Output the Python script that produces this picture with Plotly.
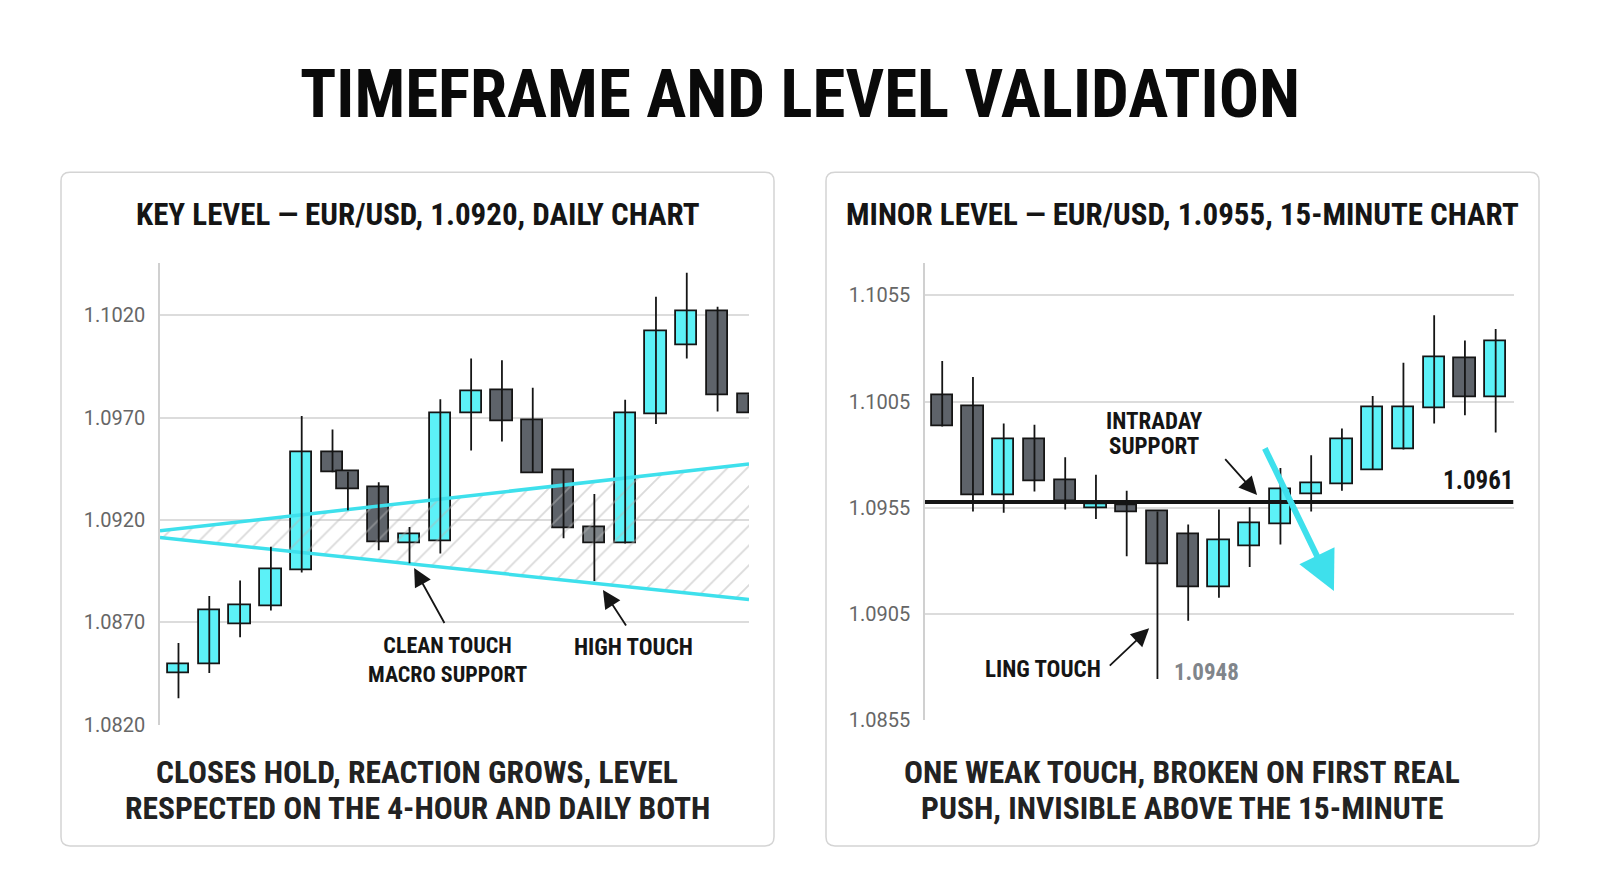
import plotly.graph_objects as go

# ---------------- data ----------------
# Left panel: daily EUR/USD candles
left_x = [0, 1, 2, 3, 4, 5, 5.5, 6.5, 7.5, 8.5, 9.5, 10.5, 11.5, 12.5, 13.5, 14.5, 15.5, 16.5, 17.5, 18.5]
left_open = [1.08453, 1.08497, 1.08693, 1.08780, 1.08956, 1.09531, 1.09436, 1.09359, 1.09085, 1.09096,
             1.09720, 1.09831, 1.09686, 1.09444, 1.09163, 1.09085, 1.09717, 1.10053, 1.10221, 1.09813]
left_close = [1.08497, 1.08760, 1.08783, 1.08958, 1.09531, 1.09433, 1.09351, 1.09090, 1.09129, 1.09723,
              1.09829, 1.09681, 1.09429, 1.09160, 1.09085, 1.09723, 1.10122, 1.10218, 1.09807, 1.09722]
left_high = [1.08600, 1.08829, 1.08905, 1.09069, 1.09707, 1.09642, 1.09436, 1.09384, 1.09166, 1.09789,
             1.09988, 1.09980, 1.09846, 1.09444, 1.09327, 1.09787, 1.10290, 1.10407, 1.10241, 1.09813]
left_low = [1.08330, 1.08453, 1.08628, 1.08758, 1.08943, 1.09433, 1.09248, 1.09052, 1.08989, 1.09036,
            1.09539, 1.09583, 1.09429, 1.09111, 1.08902, 1.09085, 1.09668, 1.09988, 1.09730, 1.09722]
left_touch_index = 14  # the "high touch" candle drawn in neutral gray

# macro support band (upper / lower edge at start and end)
band_x = [-0.6, 18.52]
band_upper = [1.09147, 1.09473]
band_lower = [1.09114, 1.08812]

left_ticks = [1.0820, 1.0870, 1.0920, 1.0970, 1.1020]
left_tick_text = ["1.0820", "1.0870", "1.0920", "1.0970", "1.1020"]

# Right panel: 15-minute candles
right_x = list(range(19))
right_open = [1.10081, 1.10030, 1.09611, 1.09873, 1.09678, 1.09550, 1.09564, 1.09533, 1.09425, 1.09178,
              1.09369, 1.09472, 1.09613, 1.09663, 1.09728, 1.09825, 1.10019, 1.10253, 1.10072]
right_close = [1.09933, 1.09611, 1.09873, 1.09673, 1.09581, 1.09566, 1.09527, 1.09284, 1.09175, 1.09397,
               1.09475, 1.09636, 1.09664, 1.09873, 1.10022, 1.10025, 1.10259, 1.10069, 1.10334]
right_high = [1.10241, 1.10166, 1.09947, 1.09941, 1.09788, 1.09706, 1.09631, 1.09533, 1.09472, 1.09542,
              1.09553, 1.09738, 1.09798, 1.09923, 1.10077, 1.10233, 1.10456, 1.10338, 1.10392]
right_low = [1.09933, 1.09533, 1.09527, 1.09627, 1.09542, 1.09498, 1.09322, 1.08745, 1.09019, 1.09127,
             1.09272, 1.09377, 1.09533, 1.09631, 1.09728, 1.09825, 1.09947, 1.09986, 1.09905]

support_x = [-0.56, 18.58]
support_level = [1.09577, 1.09577]

right_ticks = [1.0855, 1.0905, 1.0955, 1.1005, 1.1055]
right_tick_text = ["1.0855", "1.0905", "1.0955", "1.1005", "1.1055"]

# ---------------- style ----------------
W, H = 1600, 893
YK = 880 / 893  # vertical layout factor
CYAN = "#5cf1f7"
CYAN_LINE = "#3ee0ec"
DARK = "#5e636a"
TOUCH_GRAY = "#7c8286"
INK = "#151515"
COND = "Roboto Condensed, Liberation Sans Narrow, Arial Narrow, DejaVu Sans Condensed, sans-serif"
TICKFONT = dict(family="Roboto, sans-serif", size=20, color="#666666")


def px(x):
    return x / W


def py(y):
    return 1 - (y / YK) / H


fig = go.Figure()


def add_candles(xs, o, c, h, l, xa, ya, special=None):
    wx, wy = [], []
    for xi, hi, lo in zip(xs, h, l):
        wx += [xi, xi, None]
        wy += [lo, hi, None]
    fig.add_trace(go.Scatter(x=wx, y=wy, mode="lines", line=dict(color=INK, width=1.8),
                             xaxis=xa, yaxis=ya, hoverinfo="skip", showlegend=False))
    colors = []
    for i, (oo, cc) in enumerate(zip(o, c)):
        if special is not None and i == special:
            colors.append(TOUCH_GRAY)
        elif cc >= oo:
            colors.append(CYAN)
        else:
            colors.append(DARK)
    fig.add_trace(go.Bar(x=xs, y=[abs(cc - oo) for oo, cc in zip(o, c)],
                         base=[min(oo, cc) for oo, cc in zip(o, c)], width=0.69,
                         marker=dict(color=colors, line=dict(color=INK, width=1.8)),
                         xaxis=xa, yaxis=ya, hoverinfo="skip", showlegend=False))


# left band (hatched)
fig.add_trace(go.Scatter(x=band_x, y=band_lower, mode="lines", line=dict(color=CYAN_LINE, width=3.5),
                         xaxis="x", yaxis="y", hoverinfo="skip", showlegend=False))
fig.add_trace(go.Scatter(x=band_x, y=band_upper, mode="lines", line=dict(color=CYAN_LINE, width=3.5),
                         fill="tonexty", fillcolor="rgba(0,0,0,0)",
                         fillpattern=dict(shape="/", fgcolor="#b5b5b5", bgcolor="rgba(255,255,255,0)",
                                          size=14, solidity=0.13),
                         xaxis="x", yaxis="y", hoverinfo="skip", showlegend=False))
add_candles(left_x, left_open, left_close, left_high, left_low, "x", "y", special=left_touch_index)

# right support line + candles
fig.add_trace(go.Scatter(x=support_x, y=support_level, mode="lines", line=dict(color=INK, width=4),
                         xaxis="x2", yaxis="y2", hoverinfo="skip", showlegend=False))
add_candles(right_x, right_open, right_close, right_high, right_low, "x2", "y2")

# ---------------- layout ----------------
axis_common = dict(showgrid=False, zeroline=False, showticklabels=False, fixedrange=True)
yaxis_common = dict(showgrid=True, gridcolor="#dcdcdc", gridwidth=1.5, zeroline=False,
                    showline=True, linecolor="#d0d0d0", linewidth=1.5,
                    tickfont=TICKFONT, ticks="", ticklabelstandoff=9, fixedrange=True)

fig.update_layout(
    width=W, height=H, autosize=False,
    margin=dict(l=0, r=0, t=0, b=0),
    paper_bgcolor="#ffffff", plot_bgcolor="rgba(0,0,0,0)",
    barmode="overlay", bargap=0,
    showlegend=False,
    xaxis=dict(domain=[px(160), px(749)], range=[-0.6, 18.52], anchor="y", **axis_common),
    yaxis=dict(domain=[py(724), py(263)], range=[1.0820, 1.10453], anchor="x",
               tickvals=left_ticks, ticktext=left_tick_text, **yaxis_common),
    xaxis2=dict(domain=[px(925), px(1513.5)], range=[-0.56, 18.58], anchor="y2", **axis_common),
    yaxis2=dict(domain=[py(719.5), py(263)], range=[1.0855, 1.10701], anchor="x2",
                tickvals=right_ticks, ticktext=right_tick_text, **yaxis_common),
)


def card(x0, y0, x1, y1, r=9):
    X0, X1 = px(x0), px(x1)
    Y0, Y1 = py(y0), py(y1)
    rx, ry = r / W, r / H
    path = (f"M {X0 + rx},{Y0} L {X1 - rx},{Y0} Q {X1},{Y0} {X1},{Y0 - ry} "
            f"L {X1},{Y1 + ry} Q {X1},{Y1} {X1 - rx},{Y1} L {X0 + rx},{Y1} Q {X0},{Y1} {X0},{Y1 + ry} "
            f"L {X0},{Y0 - ry} Q {X0},{Y0} {X0 + rx},{Y0} Z")
    return dict(type="path", xref="paper", yref="paper", path=path, fillcolor="#ffffff",
                line=dict(color="#d4d4d4", width=1.5), layer="below")


fig.update_layout(shapes=[card(61, 172, 774, 845), card(826, 172, 1539, 845)])

ann = []


def ptext(text, x, y, size, color=INK, **kw):
    ann.append(dict(text=text, x=px(x), y=py(y), xref="paper", yref="paper", showarrow=False,
                    font=dict(family=COND, size=size, color=color, weight="bold"),
                    xanchor="center", yanchor="middle", **kw))


ptext("TIMEFRAME AND LEVEL VALIDATION", 800, 94, 67, color="#0a0a0a")
ptext("KEY LEVEL — EUR/USD, 1.0920, DAILY CHART", 418, 214, 31)
ptext("MINOR LEVEL — EUR/USD, 1.0955, 15-MINUTE CHART", 1182, 214, 31)
ptext("CLOSES HOLD, REACTION GROWS, LEVEL", 417, 772, 31.5, color="#222222")
ptext("RESPECTED ON THE 4-HOUR AND DAILY BOTH", 417, 808, 31.5, color="#222222")
ptext("ONE WEAK TOUCH, BROKEN ON FIRST REAL", 1182, 772, 31.5, color="#222222")
ptext("PUSH, INVISIBLE ABOVE THE 15-MINUTE", 1182, 808, 31.5, color="#222222")


def dtext(text, x, y, xa, ya, size=23, color=INK, **kw):
    ann.append(dict(text=text, x=x, y=y, xref=xa, yref=ya, showarrow=False,
                    font=dict(family=COND, size=size, color=color, weight="bold"),
                    xanchor="center", yanchor="middle", **kw))


def arrow(tail, tip, xa, ya, color=INK, width=1.8, head=2, size=2.0):
    ann.append(dict(text="", x=tip[0], y=tip[1], ax=tail[0], ay=tail[1], xref=xa, yref=ya,
                    axref=xa, ayref=ya, showarrow=True, arrowhead=head, arrowsize=size,
                    arrowwidth=width, arrowcolor=color, standoff=0, startstandoff=0))


# left annotations
dtext("CLEAN TOUCH<br>MACRO SUPPORT", 8.72, 1.08516, "x", "y", size=22)
arrow((8.66, 1.08690), (7.65, 1.08965), "x", "y")
dtext("HIGH TOUCH", 14.76, 1.08579, "x", "y")
arrow((14.56, 1.08677), (13.78, 1.08858), "x", "y")

# right annotations
dtext("INTRADAY", 6.90, 1.09958, "x2", "y2")
dtext("SUPPORT", 6.90, 1.09840, "x2", "y2")
arrow((9.16, 1.09786), (10.24, 1.09611), "x2", "y2")
dtext("LING TOUCH", 3.28, 1.08789, "x2", "y2")
arrow((5.40, 1.08801), (6.73, 1.08983), "x2", "y2")
dtext("1.0948", 8.58, 1.08777, "x2", "y2", color="#80858b")
dtext("1.0961", 17.43, 1.09677, "x2", "y2", size=25)
arrow((10.47, 1.09837), (12.74, 1.09159), "x2", "y2", color=CYAN_LINE, width=6, head=2, size=1.3)

fig.update_layout(annotations=ann)

fig.write_html("out.html", config={"displayModeBar": False, "responsive": False},
               post_script="document.body.style.margin='0';document.body.style.overflow='hidden';")
